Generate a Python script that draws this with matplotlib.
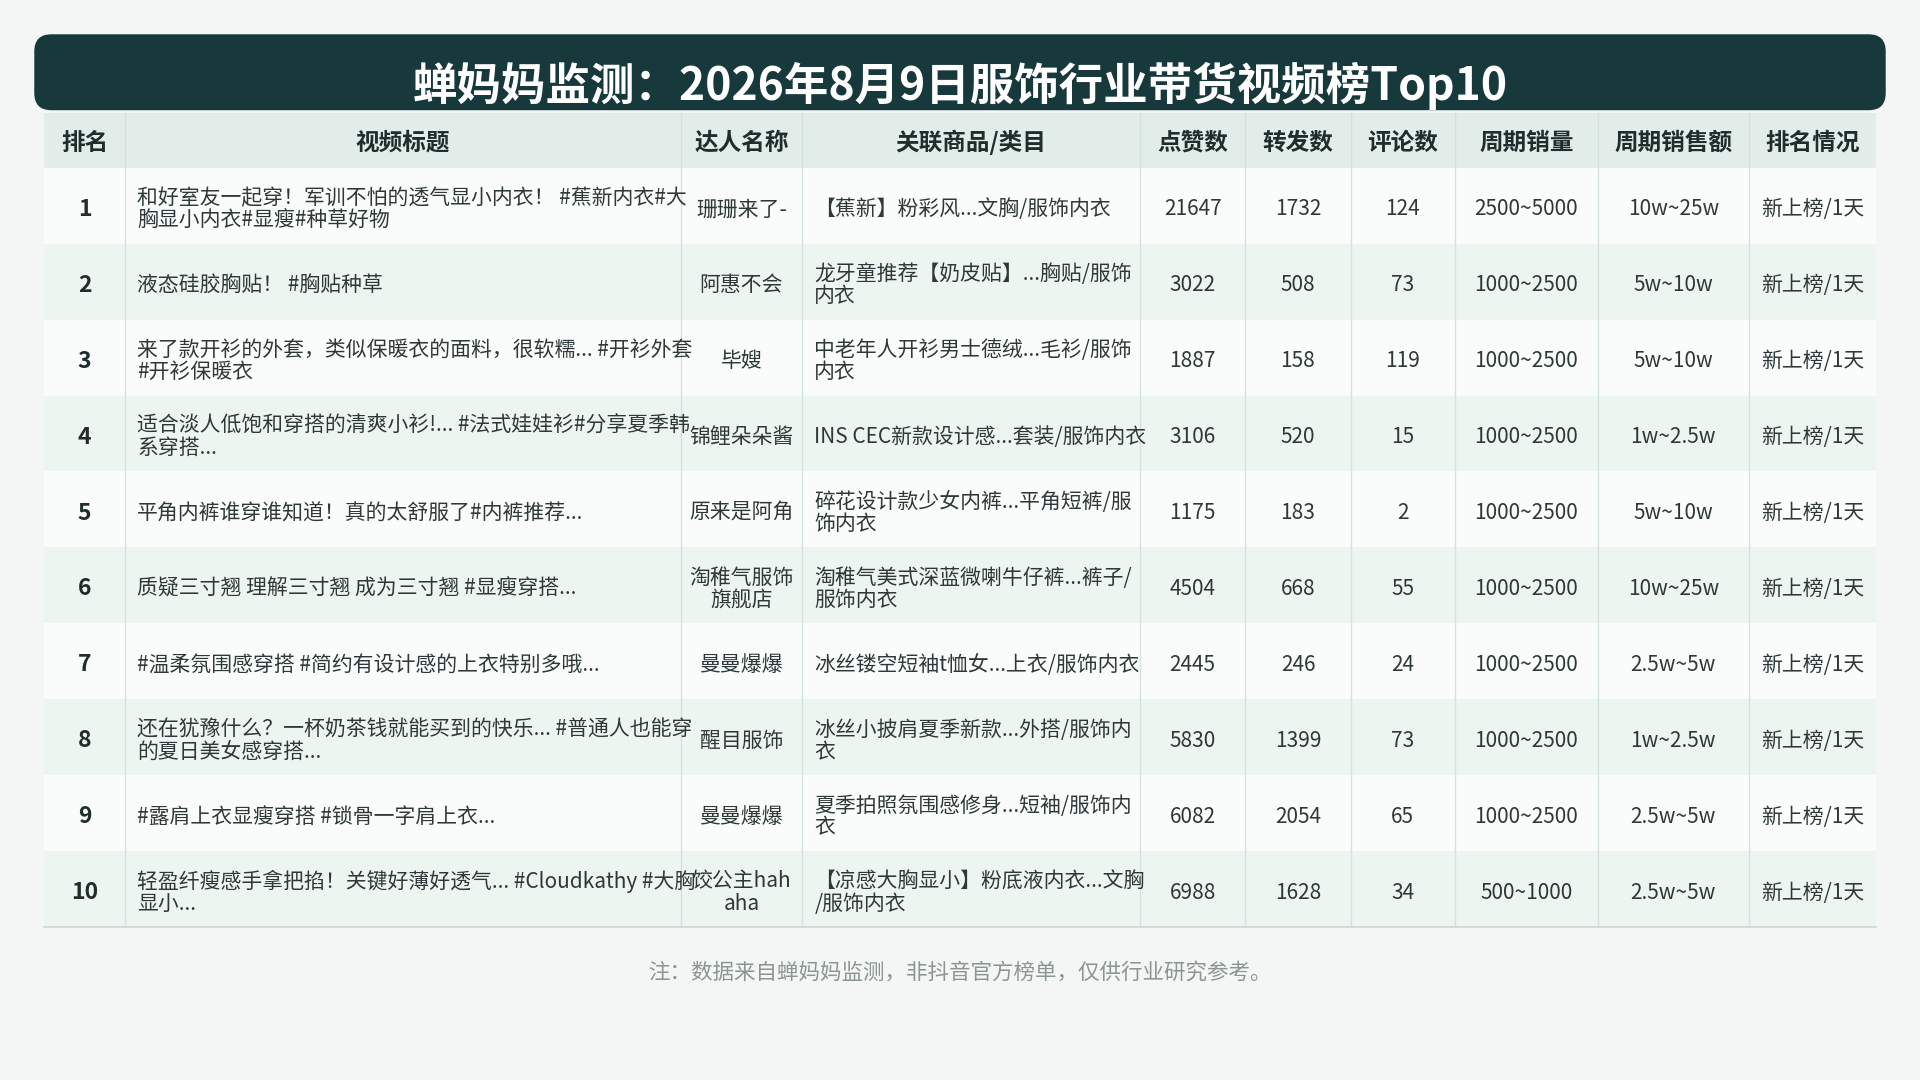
import matplotlib
matplotlib.use("Agg")
import matplotlib.pyplot as plt
from matplotlib.patches import FancyBboxPatch, Rectangle

plt.rcParams['font.family'] = ['Noto Sans CJK SC', 'DejaVu Sans']

title = "蝉妈妈监测：2026年8月9日服饰行业带货视频榜Top10"
headers = ["排名", "视频标题", "达人名称", "关联商品/类目", "点赞数", "转发数", "评论数", "周期销量", "周期销售额", "排名情况"]
ranks = [str(i) for i in range(1, 11)]
video_titles = [
    "和好室友一起穿！军训不怕的透气显小内衣！ #蕉新内衣#大\n胸显小内衣#显瘦#种草好物",
    "液态硅胶胸贴！ #胸贴种草",
    "来了款开衫的外套，类似保暖衣的面料，很软糯... #开衫外套\n#开衫保暖衣",
    "适合淡人低饱和穿搭的清爽小衫!... #法式娃娃衫#分享夏季韩\n系穿搭...",
    "平角内裤谁穿谁知道！真的太舒服了#内裤推荐...",
    "质疑三寸翘 理解三寸翘 成为三寸翘 #显瘦穿搭...",
    "#温柔氛围感穿搭 #简约有设计感的上衣特别多哦...",
    "还在犹豫什么？一杯奶茶钱就能买到的快乐... #普通人也能穿\n的夏日美女感穿搭...",
    "#露肩上衣显瘦穿搭 #锁骨一字肩上衣...",
    "轻盈纤瘦感手拿把掐！关键好薄好透气... #Cloudkathy #大胸\n显小...",
]
creators = ["珊珊来了-", "阿惠不会", "毕嫂", "锦鲤朵朵酱", "原来是阿角", "淘稚气服饰\n旗舰店", "曼曼爆爆", "醒目服饰", "曼曼爆爆", "饺公主hah\naha"]
products = [
    "【蕉新】粉彩风...文胸/服饰内衣",
    "龙牙童推荐【奶皮贴】...胸贴/服饰\n内衣",
    "中老年人开衫男士德绒...毛衫/服饰\n内衣",
    "INS CEC新款设计感...套装/服饰内衣",
    "碎花设计款少女内裤...平角短裤/服\n饰内衣",
    "淘稚气美式深蓝微喇牛仔裤...裤子/\n服饰内衣",
    "冰丝镂空短袖t恤女...上衣/服饰内衣",
    "冰丝小披肩夏季新款...外搭/服饰内\n衣",
    "夏季拍照氛围感修身...短袖/服饰内\n衣",
    "【凉感大胸显小】粉底液内衣...文胸\n/服饰内衣",
]
likes = [21647, 3022, 1887, 3106, 1175, 4504, 2445, 5830, 6082, 6988]
shares = [1732, 508, 158, 520, 183, 668, 246, 1399, 2054, 1628]
comments = [124, 73, 119, 15, 2, 55, 24, 73, 65, 34]
sales_vol = ["2500~5000", "1000~2500", "1000~2500", "1000~2500", "1000~2500", "1000~2500", "1000~2500", "1000~2500", "1000~2500", "500~1000"]
sales_amt = ["10w~25w", "5w~10w", "5w~10w", "1w~2.5w", "5w~10w", "10w~25w", "2.5w~5w", "1w~2.5w", "2.5w~5w", "2.5w~5w"]
status = ["新上榜/1天"] * 10
footnote = "注：数据来自蝉妈妈监测，非抖音官方榜单，仅供行业研究参考。"

W, H = 1568, 882
fig = plt.figure(figsize=(19.2, 10.8), dpi=100)
fig.patch.set_facecolor("#f3f6f5")
ax = fig.add_axes([0, 0, 1, 1])
ax.set_xlim(0, W); ax.set_ylim(H, 0); ax.axis("off")

dark = "#17393b"
ax.add_patch(FancyBboxPatch((28, 28), 1512, 62, boxstyle="round,pad=0,rounding_size=14",
                            fc=dark, ec="none"))
ax.text(784, 70, title, ha="center", va="center", color="white", fontsize=32, fontweight="bold")

cols = [36, 102, 556, 655, 931, 1017, 1103, 1188, 1305, 1428, 1532]
hy0, hy1 = 92, 137
rh = 62
ax.add_patch(Rectangle((cols[0], hy0), cols[-1]-cols[0], hy1-hy0, fc="#e2edea", ec="none"))
for i, h in enumerate(headers):
    ax.text((cols[i]+cols[i+1])/2, (hy0+hy1)/2 + 2, h, ha="center", va="center",
            fontsize=17, fontweight="bold", color="#1f2d2d")

txt = "#2e3838"
fs = 15
for r in range(10):
    y0 = hy1 + r*rh
    ax.add_patch(Rectangle((cols[0], y0), cols[-1]-cols[0], rh,
                           fc="#fafcfb" if r % 2 == 0 else "#edf5f1", ec="none"))
    yc = y0 + rh/2 + 3
    row = [ranks[r], video_titles[r], creators[r], products[r], str(likes[r]), str(shares[r]),
           str(comments[r]), sales_vol[r], sales_amt[r], status[r]]
    for c, v in enumerate(row):
        if c == 0:
            ax.text((cols[0]+cols[1])/2, yc, v, ha="center", va="center", fontsize=16.5,
                    fontweight="bold", color="#1f2d2d")
        elif c in (1, 3):
            ax.text(cols[c]+10, yc, v, ha="left", va="center", fontsize=fs, color=txt,
                    linespacing=1.0)
        else:
            ax.text((cols[c]+cols[c+1])/2, yc, v, ha="center", va="center", fontsize=fs,
                    color=txt, linespacing=1.0)

bottom = hy1 + 10*rh
for x in cols[1:-1]:
    ax.plot([x, x], [hy0, bottom], color="#d3e2de", lw=1)
ax.plot([cols[0], cols[-1]], [bottom, bottom], color="#c9d9d5", lw=1.2)

ax.text(784, 794, footnote, ha="center", va="center", fontsize=15.5, color="#8a9594")

fig.savefig("out.png", dpi=100, facecolor=fig.get_facecolor())
